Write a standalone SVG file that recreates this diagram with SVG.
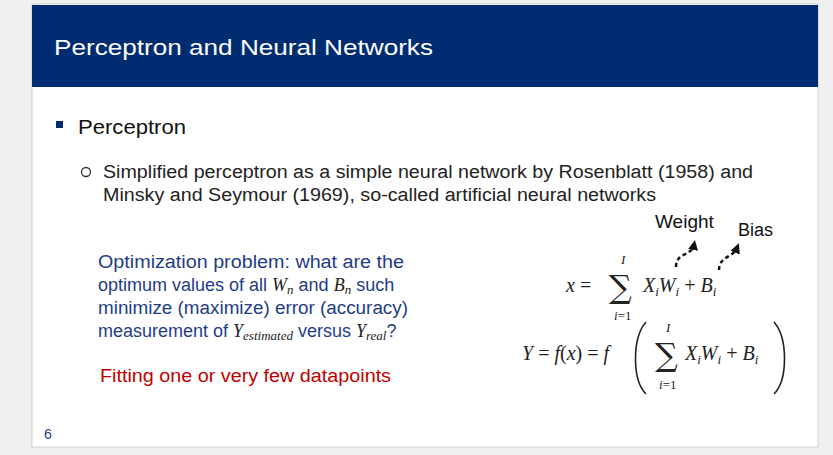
<svg xmlns="http://www.w3.org/2000/svg" width="833" height="455" viewBox="0 0 833 455">
<defs>
<style>
.s{font-family:"Liberation Sans",Arial,sans-serif}
.m{font-family:"Liberation Serif","DejaVu Serif",serif;font-style:italic;fill:#222}
.r{font-family:"Liberation Serif","DejaVu Serif",serif;font-style:normal;fill:#222}
.sum{font-family:"DejaVu Serif",serif;fill:#222}
.d{fill:none;stroke:#111;stroke-width:2.5;stroke-dasharray:4 3}
.p{fill:none;stroke:#222;stroke-width:1.6}
</style>
<marker id="ah" viewBox="0 0 10 10" refX="5" refY="5" markerWidth="4" markerHeight="4" orient="auto"><path d="M0,0L10,5L0,10z" fill="#111"/></marker>
</defs>
<rect width="833" height="455" fill="#f0f0f0"/>
<rect x="32" y="4" width="786" height="443" fill="#fff" stroke="#d0d0d0"/>
<rect x="32" y="5" width="786" height="82" fill="#002d72"/>
<text x="54" y="55" class="s" font-size="22" fill="#fff" textLength="379" lengthAdjust="spacingAndGlyphs">Perceptron and Neural Networks</text>
<rect x="56" y="121" width="7" height="7" fill="#002d72"/>
<text x="78" y="134" class="s" font-size="21" fill="#111" textLength="108" lengthAdjust="spacingAndGlyphs">Perceptron</text>
<circle cx="86" cy="172" r="4.5" fill="none" stroke="#333" stroke-width="1.3"/>
<text class="s" font-size="18" fill="#222"><tspan x="103" y="178" textLength="650" lengthAdjust="spacingAndGlyphs">Simplified perceptron as a simple neural network by Rosenblatt (1958) and</tspan><tspan x="103" y="201" textLength="553" lengthAdjust="spacingAndGlyphs">Minsky and Seymour (1969), so-called artificial neural networks</tspan></text>
<text class="s" font-size="18" fill="#1f3c88"><tspan x="98" y="268" textLength="306" lengthAdjust="spacingAndGlyphs">Optimization problem: what are the</tspan><tspan x="98" y="291">optimum values of all <tspan class="m">W<tspan font-size="13" dy="3">n</tspan></tspan><tspan dy="-3"> and </tspan><tspan class="m">B<tspan font-size="13" dy="3">n</tspan></tspan><tspan dy="-3"> such</tspan></tspan><tspan x="98" y="314" textLength="310" lengthAdjust="spacingAndGlyphs">minimize (maximize) error (accuracy)</tspan><tspan x="98" y="337">measurement of <tspan class="m" fill="#1f3c88">Y<tspan font-size="13" dy="3">estimated</tspan></tspan><tspan dy="-3"> versus </tspan><tspan class="m">Y<tspan font-size="13" dy="3">real</tspan></tspan><tspan dy="-3">?</tspan></tspan></text>
<text x="100" y="382" class="s" font-size="18" fill="#c00000" textLength="291" lengthAdjust="spacingAndGlyphs">Fitting one or very few datapoints</text>
<text x="44" y="439" class="s" font-size="14" fill="#1f3c88">6</text>
<text x="655" y="228" class="s" font-size="19" fill="#111">Weight</text>
<text x="738" y="236" class="s" font-size="18" fill="#111">Bias</text>
<g id="connectors">
<path class="d" d="M676,267 C676,252 692,256 694,245" marker-end="url(#ah)"/>
<path class="d" d="M719,270 C719,256 733,258 737,248" marker-end="url(#ah)"/>
</g>
<g id="eq1">
<text x="566" y="292" class="m" font-size="20">x <tspan class="r">=</tspan></text>
<text x="609" y="298" class="sum" font-size="32">∑</text>
<text x="621" y="264" class="m" font-size="13">I</text>
<text x="614" y="320" class="m" font-size="13">i<tspan class="r">=1</tspan></text>
<text x="643" y="292" class="m" font-size="20">X<tspan font-size="13" dy="4">i</tspan><tspan dy="-4">W</tspan><tspan font-size="13" dy="4">i</tspan><tspan dy="-4" class="r"> + </tspan>B<tspan font-size="13" dy="4">i</tspan></text>
</g>
<g id="eq2">
<text x="522" y="360" class="m" font-size="20">Y <tspan class="r">=</tspan> f<tspan class="r">(</tspan>x<tspan class="r">) =</tspan> f</text>
<path class="p" d="M646,322 C632,338 632,380 646,394"/>
<text x="655" y="366" class="sum" font-size="32">∑</text>
<text x="666" y="332" class="m" font-size="13">I</text>
<text x="659" y="389" class="m" font-size="13">i<tspan class="r">=1</tspan></text>
<text x="685" y="360" class="m" font-size="20">X<tspan font-size="13" dy="4">i</tspan><tspan dy="-4">W</tspan><tspan font-size="13" dy="4">i</tspan><tspan dy="-4" class="r"> + </tspan>B<tspan font-size="13" dy="4">i</tspan></text>
<path class="p" d="M774,322 C788,338 788,380 774,394"/>
</g>
</svg>
